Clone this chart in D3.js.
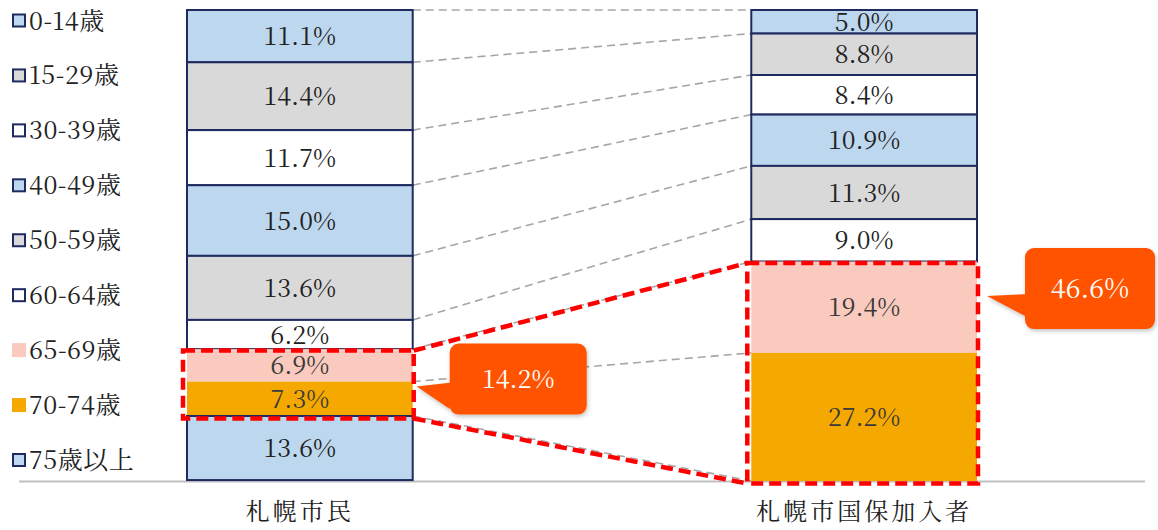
<!DOCTYPE html>
<html>
<head>
<meta charset="utf-8">
<script src="https://cdn.jsdelivr.net/npm/d3@7"></script>
<style>
  html, body { margin: 0; padding: 0; background: #fff; }
  svg { display: block; }
</style>
</head>
<body>
<svg id="chart" width="1158" height="530"></svg>
<script>
// ---- data ----
const categories = ["札幌市民", "札幌市国保加入者"];
const ageGroups = ["0-14歳", "15-29歳", "30-39歳", "40-49歳", "50-59歳", "60-64歳", "65-69歳", "70-74歳", "75歳以上"];
const sapporoShares = [11.1, 14.4, 11.7, 15.0, 13.6, 6.2, 6.9, 7.3, 13.6];
const kokuhoShares  = [5.0, 8.8, 8.4, 10.9, 11.3, 9.0, 19.4, 27.2, 0];
const highlightGroups = ["65-69歳", "70-74歳"];
const highlightTotals = [14.2, 46.6];

// ---- styles ----
const fillColors = ["#BDD7EE", "#D9D9D9", "#FFFFFF", "#BDD7EE", "#D9D9D9", "#FFFFFF", "#F9CABD", "#F5A800", "#BDD7EE"];
const navy = "#1F2A60";
const FONT = "Noto Serif CJK JP";

const svg = d3.select("#chart");

const rows = categories.map((c, i) => {
  const r = { category: c };
  const vals = i === 0 ? sapporoShares : kokuhoShares;
  ageGroups.forEach((g, j) => r[g] = vals[j]);
  return r;
});

const x = d3.scaleBand().domain(categories).range([187, 977]).paddingInner(0.6).paddingOuter(0);
const y = d3.scaleLinear().domain([0, 100]).range([10, 481]);
const color = d3.scaleOrdinal().domain(ageGroups).range(fillColors);

const stacked = d3.stack().keys(ageGroups)(rows);

// ---- baseline ----
svg.append("line")
  .attr("x1", 19).attr("x2", 1145)
  .attr("y1", y(100) + 0.5).attr("y2", y(100) + 0.5)
  .attr("stroke", "#BFBFBF").attr("stroke-width", 2);

// ---- gray dashed connectors between bars ----
const c0 = categories[0], c1 = categories[1];
const boundaries = [{ a: 0, b: 0 }];
stacked.slice(0, -1).forEach(s => boundaries.push({ a: s[0][1], b: s[1][1] }));
svg.append("g").selectAll("line").data(boundaries).join("line")
  .attr("x1", x(c0) + x.bandwidth()).attr("y1", d => y(d.a))
  .attr("x2", x(c1)).attr("y2", d => y(d.b))
  .attr("stroke", "#A6A6A6").attr("stroke-width", 1.6)
  .attr("stroke-dasharray", "8,5");

// ---- bars ----
const segs = [];
stacked.forEach((s, k) => {
  s.forEach((d, i) => {
    const v = d[1] - d[0];
    if (v > 0) segs.push({ key: s.key, k, cat: categories[i], y0: d[0], y1: d[1], v });
  });
});

const barG = svg.append("g");
barG.selectAll("rect").data(segs).join("rect")
  .attr("x", d => x(d.cat))
  .attr("width", x.bandwidth())
  .attr("y", d => y(d.y0))
  .attr("height", d => y(d.y1) - y(d.y0))
  .attr("fill", d => color(d.key))
  .attr("stroke", d => highlightGroups.includes(d.key) ? "none" : navy)
  .attr("stroke-width", 2);

barG.selectAll("text").data(segs).join("text")
  .attr("x", d => x(d.cat) + x.bandwidth() / 2)
  .attr("y", d => (y(d.y0) + y(d.y1)) / 2)
  .attr("dy", "0.36em")
  .attr("text-anchor", "middle")
  .style("font-family", FONT)
  .attr("font-size", 25)
  .attr("fill", d => highlightGroups.includes(d.key) ? "#3a3a3a" : "#222")
  .text(d => d3.format(".1f")(d.v) + "%");

// ---- highlight boxes (red dashed) ----
const hiStart = ageGroups.indexOf(highlightGroups[0]);
const hiEnd = ageGroups.indexOf(highlightGroups[highlightGroups.length - 1]);
const boxes = categories.map((c, i) => ({
  x0: x(c) - 4,
  x1: x(c) + x.bandwidth() + 1,
  y0: y(stacked[hiStart][i][0]) + 1.5,
  y1: y(stacked[hiEnd][i][1]) + 2.5
}));
const redG = svg.append("g");
const dash = sel => sel.attr("stroke", "#FF0000").attr("stroke-width", 4.5).attr("stroke-dasharray", "12,6");
redG.selectAll("rect").data(boxes).join("rect")
  .attr("x", d => d.x0).attr("y", d => d.y0)
  .attr("width", d => d.x1 - d.x0).attr("height", d => d.y1 - d.y0)
  .attr("fill", "none").call(dash);
redG.append("line")
  .attr("x1", boxes[0].x1).attr("y1", boxes[0].y0)
  .attr("x2", boxes[1].x0).attr("y2", boxes[1].y0).call(dash);
redG.append("line")
  .attr("x1", boxes[0].x1).attr("y1", boxes[0].y1)
  .attr("x2", boxes[1].x0).attr("y2", boxes[1].y1).call(dash);

// ---- callouts ----
const defs = svg.append("defs");
const f = defs.append("filter").attr("id", "shadow").attr("x", "-20%").attr("y", "-20%").attr("width", "140%").attr("height", "150%");
f.append("feDropShadow").attr("dx", 1).attr("dy", 2).attr("stdDeviation", 2).attr("flood-color", "#000").attr("flood-opacity", 0.25);

const callouts = [
  { total: highlightTotals[0], x0: boxes[0].x1 + 36, y0: boxes[0].y0 - 7, w: 137, h: 71, fs: 25,
    tip: [boxes[0].x1 + 3, (boxes[0].y0 + boxes[0].y1) / 2 + 2], b0: 0.55, b1: 0.92 },
  { total: highlightTotals[1], x0: boxes[1].x1 + 47, y0: boxes[1].y0 - 15, w: 130, h: 81, fs: 27,
    tip: [boxes[1].x1 + 9, boxes[1].y0 + 33], b0: 0.57, b1: 0.84 }
];
const r = 9;
callouts.forEach(c => {
  const { x0, y0, w, h } = c;
  const x1 = x0 + w, y1 = y0 + h;
  const p = d3.path();
  p.moveTo(x0 + r, y0);
  p.lineTo(x1 - r, y0);
  p.arcTo(x1, y0, x1, y0 + r, r);
  p.lineTo(x1, y1 - r);
  p.arcTo(x1, y1, x1 - r, y1, r);
  p.lineTo(x0 + r, y1);
  p.arcTo(x0, y1, x0, y1 - r, r);
  p.lineTo(x0, y0 + c.b1 * h);
  p.lineTo(c.tip[0], c.tip[1]);
  p.lineTo(x0, y0 + c.b0 * h);
  p.lineTo(x0, y0 + r);
  p.arcTo(x0, y0, x0 + r, y0, r);
  p.closePath();
  svg.append("path").attr("d", p.toString())
    .attr("fill", "#FF5200").attr("filter", "url(#shadow)");
  svg.append("text")
    .attr("x", x0 + w / 2).attr("y", y0 + h / 2)
    .attr("dy", "0.36em").attr("text-anchor", "middle")
    .style("font-family", FONT).attr("font-size", c.fs)
    .attr("fill", "#fff")
    .text(d3.format(".1f")(c.total) + "%");
});

// ---- category axis ----
const axis = d3.axisBottom(x).tickSize(0).tickPadding(22);
const ax = svg.append("g").attr("transform", `translate(0,${y(100)})`).call(axis);
ax.select(".domain").remove();
ax.selectAll("text")
  .style("font-family", FONT)
  .attr("font-size", 24)
  .attr("letter-spacing", 3)
  .attr("fill", "#222");

// ---- legend ----
const leg = svg.append("g");
const legY = d3.scalePoint().domain(ageGroups).range([20.5, 460]);
const li = leg.selectAll("g").data(ageGroups).join("g")
  .attr("transform", d => `translate(0,${legY(d)})`);
li.append("rect")
  .attr("x", d => highlightGroups.includes(d) ? 12 : 13)
  .attr("y", d => highlightGroups.includes(d) ? -7 : -6)
  .attr("width", d => highlightGroups.includes(d) ? 14 : 12)
  .attr("height", d => highlightGroups.includes(d) ? 14 : 12)
  .attr("fill", d => color(d))
  .attr("stroke", d => highlightGroups.includes(d) ? "none" : navy)
  .attr("stroke-width", 2);
li.append("text")
  .attr("x", 29).attr("y", 0).attr("dy", "0.36em")
  .style("font-family", FONT)
  .attr("font-size", 25)
  .attr("letter-spacing", 0.5)
  .attr("fill", "#222")
  .text(d => d);
</script>
</body>
</html>
